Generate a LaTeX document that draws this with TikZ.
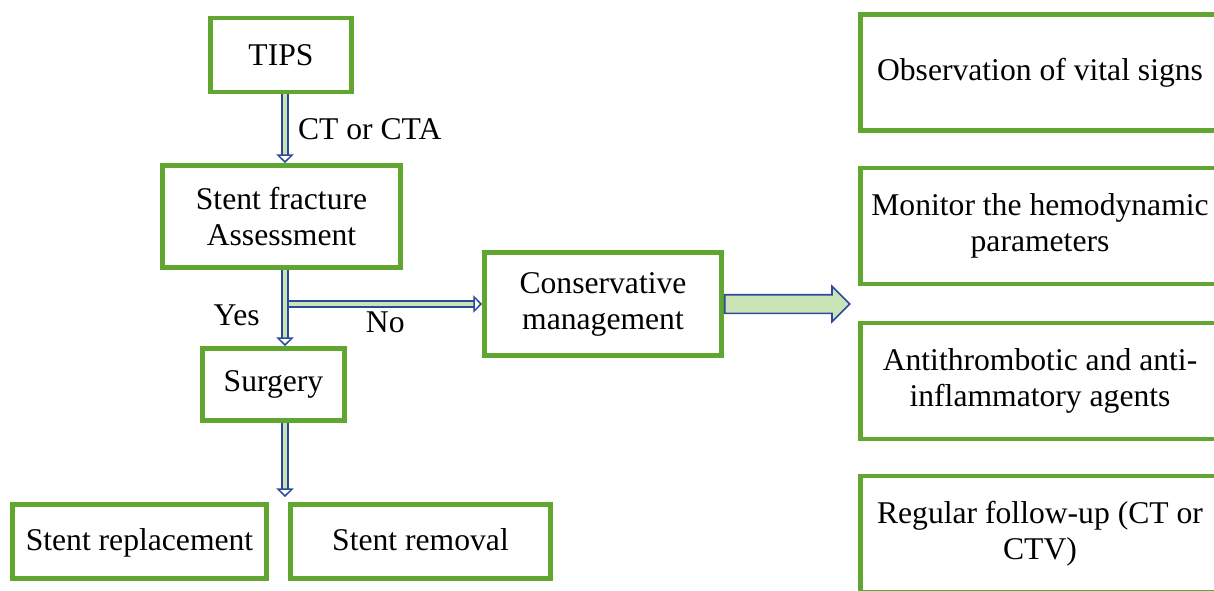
\documentclass[tikz,border=0pt]{standalone}
\usepackage{fontspec}
\setmainfont{Liberation Serif}
\usepackage{tikz}
\usetikzlibrary{shapes,shapes.arrows,arrows.meta,positioning,calc}
\definecolor{boxgreen}{RGB}{96,166,48}
\definecolor{arrowblue}{RGB}{44,74,156}
\definecolor{arrowfill}{RGB}{202,228,182}
\begin{document}
\begin{tikzpicture}[
      box/.style={draw=boxgreen,line width=2.8pt,fill=white,align=center,inner sep=1pt},
      oneline/.style={box,text depth=0.22em},
      sidebox/.style={box,minimum width=7.18cm,minimum height=2.32cm},
      link/.style={draw=arrowblue,line width=0.85pt,double=arrowfill,double distance=2.6pt,
        -{Triangle[open,length=5pt,width=10pt]}},
  every node/.append style={font=\fontsize{18}{20.5}\selectfont}]
  \tikzstyle{word} = [color=black,inner sep=4pt]
  \useasboundingbox (0,0) rectangle (24.28,-11.8);
  \coordinate (spine) at (5.70,0);
  % left column
  \node (tips) [box,minimum width=2.82cm,minimum height=1.48cm] at (5.62,-1.10) {TIPS};
  \node (assess) [box,minimum width=4.76cm,minimum height=2.04cm] at (5.63,-4.33) {Stent fracture\\Assessment};
  \node (surg) [box,minimum width=2.84cm,minimum height=1.44cm] at (5.47,-7.69) {Surgery};
  \node (cons) [box,minimum width=4.74cm,minimum height=2.06cm] at (12.06,-6.08) {Conservative\\management};
  \node (repl) [oneline,minimum width=5.08cm,minimum height=1.48cm] at (2.79,-10.83) {Stent replacement};
  \node (remov) [oneline,minimum width=5.2cm,minimum height=1.48cm] at (8.41,-10.83) {Stent removal};
  \coordinate (split) at ($(spine |- repl.north)+(0,0.1)$);
  % right column
  \node (obs) [sidebox] at (20.8,-1.45) {Observation of vital signs};
  \node (mon) [sidebox] at (20.8,-4.52) {Monitor the hemodynamic\\parameters};
  \node (anti) [sidebox] at (20.8,-7.62) {Antithrombotic and anti-\\inflammatory agents};
  \node (follow) [sidebox] at (20.8,-10.68) {Regular follow-up (CT or\\CTV)};
  % connectors
  \draw[link] (tips.south -| spine) -- (assess.north -| spine) node[word,midway,right,xshift=3pt] {CT or CTA};
  \draw[link] (assess.south -| spine) -- (surg.north -| spine) node[word,pos=0.6,left=0.35cm] {Yes};
  \draw[link] ([xshift=2pt]spine |- cons.west) -- (cons.west) node[word,midway,below] {No};
  \draw[link] (surg.south -| spine) -- (split);
  \node (toright) [single arrow,draw=arrowblue,line width=0.9pt,fill=arrowfill,anchor=west,
    minimum height=2.5cm,inner xsep=0pt,inner ysep=0.17cm,single arrow head extend=0.17cm] at (cons.east) {};
\end{tikzpicture}
\end{document}
